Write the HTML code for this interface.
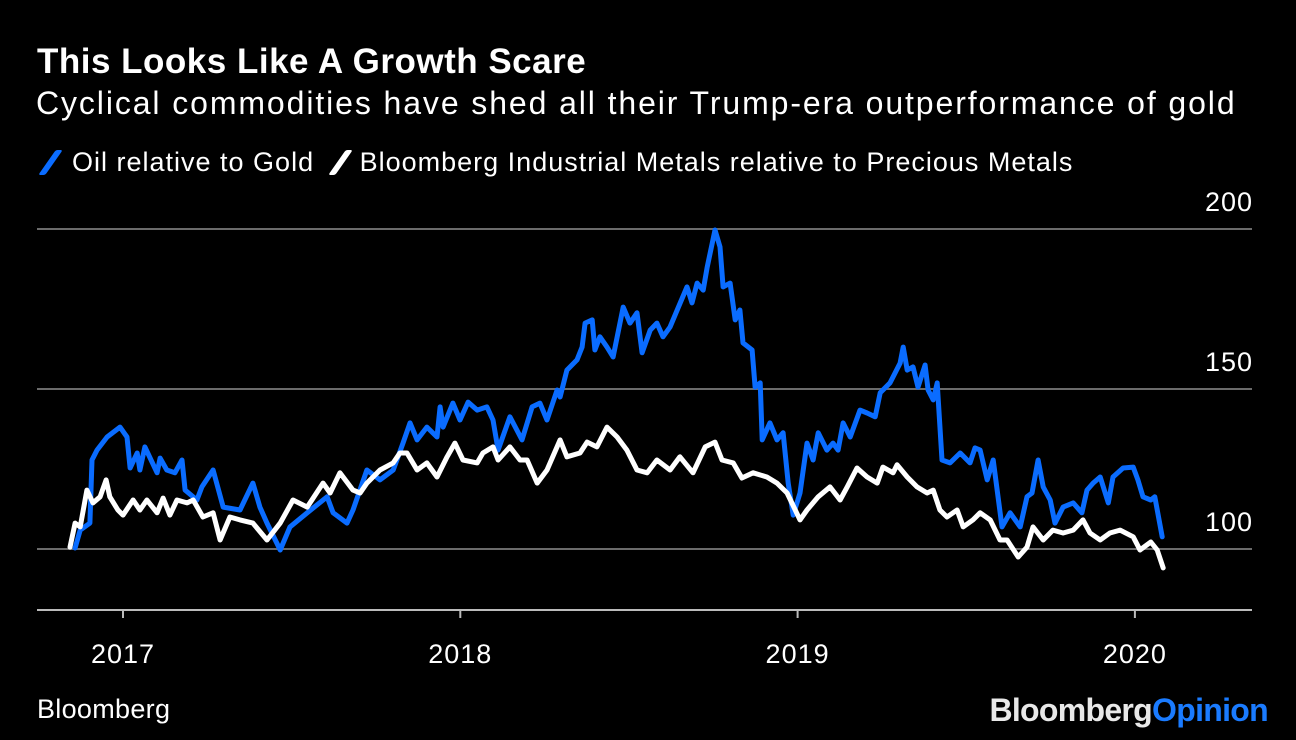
<!DOCTYPE html>
<html><head><meta charset="utf-8"><style>
body{margin:0;background:#000;width:1296px;height:740px;overflow:hidden;font-family:"Liberation Sans",sans-serif;color:#fff}
.t{position:absolute;white-space:nowrap}
</style></head><body>
<div class="t" style="left:37px;top:42px;font-size:35px;font-weight:bold;letter-spacing:0.5px">This Looks Like A Growth Scare</div>
<div class="t" style="left:36px;top:85px;font-size:32px;letter-spacing:1.9px">Cyclical commodities have shed all their Trump-era outperformance of gold</div>
<div class="t" style="left:37px;top:147px;font-size:27px;letter-spacing:1px">
<span><span style="display:inline-block;width:7px;height:25px;background:#0a6cff;transform:skew(-35deg);vertical-align:-4px;margin:0 18px 0 10px;border-radius:2px"></span>Oil relative to Gold</span>
<span><span style="display:inline-block;width:7px;height:25px;background:#fff;transform:skew(-35deg);vertical-align:-4px;margin:0 16px 0 14px;border-radius:2px"></span>Bloomberg Industrial Metals relative to Precious Metals</span>
</div>
<svg id="chart" width="1296" height="740" style="position:absolute;left:0;top:0"></svg>
<div class="t" style="left:37px;top:694px;font-size:27px;letter-spacing:0.3px">Bloomberg</div>
<div class="t" style="right:28px;top:692px;font-size:32px;font-weight:bold;letter-spacing:-0.7px;color:#e8e8e8">Bloomberg<span style="color:#1a7bff">Opinion</span></div>
<script>
const yTicks=[100,150,200];
const xTickYears=[2017,2018,2019,2020];
const oilDates=[2016.858,2016.873,2016.902,2016.908,2016.923,2016.953,2016.991,2017.012,2017.021,2017.042,2017.050,2017.065,2017.101,2017.110,2017.130,2017.154,2017.175,2017.184,2017.219,2017.234,2017.267,2017.297,2017.347,2017.385,2017.406,2017.427,2017.466,2017.495,2017.546,2017.605,2017.623,2017.664,2017.682,2017.723,2017.762,2017.801,2017.830,2017.851,2017.872,2017.901,2017.931,2017.940,2017.949,2017.978,2017.999,2018.023,2018.050,2018.079,2018.097,2018.112,2018.147,2018.183,2018.213,2018.236,2018.257,2018.287,2018.296,2018.316,2018.346,2018.361,2018.370,2018.391,2018.399,2018.414,2018.435,2018.453,2018.483,2018.503,2018.524,2018.539,2018.563,2018.583,2018.601,2018.622,2018.643,2018.672,2018.687,2018.702,2018.720,2018.732,2018.755,2018.770,2018.779,2018.800,2018.815,2018.829,2018.838,2018.865,2018.874,2018.889,2018.895,2018.918,2018.939,2018.957,2018.972,2018.987,2019.007,2019.028,2019.046,2019.061,2019.087,2019.105,2019.120,2019.135,2019.156,2019.185,2019.206,2019.230,2019.245,2019.274,2019.304,2019.313,2019.325,2019.342,2019.357,2019.378,2019.387,2019.402,2019.414,2019.428,2019.452,2019.482,2019.511,2019.526,2019.541,2019.562,2019.580,2019.606,2019.630,2019.660,2019.680,2019.695,2019.713,2019.728,2019.749,2019.763,2019.787,2019.817,2019.843,2019.858,2019.876,2019.897,2019.921,2019.935,2019.965,2019.995,2020.009,2020.024,2020.047,2020.059,2020.081];
const oilValues=[100.3,105.9,108.1,127.8,130.9,135.0,138.1,135.0,125.3,130.0,124.7,131.9,123.8,128.4,124.7,123.8,127.8,118.4,115.3,119.4,124.7,113.1,112.2,120.6,113.1,108.1,99.7,106.9,111.3,116.3,111.3,108.1,112.2,124.7,121.6,124.7,133.1,139.4,134.1,138.1,135.0,144.4,138.1,145.6,140.3,145.9,143.4,144.4,140.3,130.9,141.3,134.1,144.4,145.6,140.3,149.7,147.5,155.9,159.1,163.1,170.6,171.6,162.2,166.3,163.1,160.0,175.6,170.6,173.8,161.3,168.4,170.6,166.3,169.4,174.7,181.9,176.9,183.1,180.9,188.1,199.7,194.4,181.9,183.1,171.6,174.7,164.4,162.2,150.6,151.9,134.1,139.4,134.1,136.3,120.6,110.6,117.5,133.1,127.8,136.3,130.9,133.1,130.9,139.4,135.0,143.4,142.5,141.3,148.8,151.9,158.1,163.1,155.9,156.9,150.6,157.5,149.7,146.6,151.9,127.8,126.9,130.0,126.9,131.6,130.9,121.6,127.8,106.9,111.3,106.9,116.3,117.5,127.8,119.4,115.3,108.1,113.1,114.4,111.3,118.4,120.6,122.5,114.4,122.5,125.3,125.6,121.6,116.3,115.3,116.3,103.8];
const metalDates=[2016.843,2016.858,2016.873,2016.893,2016.911,2016.932,2016.950,2016.961,2016.985,2017.000,2017.030,2017.050,2017.071,2017.101,2017.119,2017.139,2017.160,2017.190,2017.208,2017.237,2017.267,2017.288,2017.317,2017.347,2017.385,2017.427,2017.466,2017.504,2017.546,2017.593,2017.614,2017.643,2017.682,2017.703,2017.723,2017.762,2017.801,2017.821,2017.842,2017.872,2017.901,2017.931,2017.961,2017.984,2018.008,2018.050,2018.067,2018.097,2018.112,2018.147,2018.177,2018.198,2018.228,2018.257,2018.296,2018.316,2018.355,2018.376,2018.405,2018.435,2018.465,2018.494,2018.524,2018.554,2018.583,2018.622,2018.651,2018.690,2018.726,2018.755,2018.776,2018.809,2018.835,2018.868,2018.909,2018.939,2018.969,2019.007,2019.028,2019.061,2019.096,2019.126,2019.147,2019.176,2019.206,2019.236,2019.253,2019.283,2019.295,2019.325,2019.354,2019.384,2019.402,2019.422,2019.443,2019.473,2019.491,2019.520,2019.541,2019.571,2019.600,2019.621,2019.654,2019.680,2019.698,2019.728,2019.757,2019.787,2019.817,2019.846,2019.867,2019.897,2019.926,2019.956,2019.995,2020.015,2020.047,2020.066,2020.084];
const metalValues=[100.6,108.1,106.9,118.4,114.4,116.3,121.6,116.3,112.2,110.6,115.3,112.2,115.3,111.3,115.9,110.6,115.3,114.4,115.3,110.0,111.3,102.8,110.0,109.1,108.1,102.8,108.1,115.3,113.1,120.6,117.5,123.8,118.4,117.5,120.6,124.7,126.9,130.0,130.0,124.7,126.9,122.5,128.8,133.1,127.8,126.9,130.0,131.9,127.8,131.9,127.8,127.8,120.6,124.7,134.1,128.8,130.0,133.4,131.9,138.1,135.0,130.9,124.7,123.8,127.8,124.7,128.8,123.8,131.9,133.4,127.8,126.9,122.2,123.8,122.5,120.6,117.5,109.1,112.2,116.3,119.4,115.3,119.4,125.3,122.5,120.6,125.6,123.8,126.3,122.5,119.4,117.5,118.4,112.2,110.0,112.2,106.9,109.1,111.3,109.1,102.8,102.8,97.5,100.6,106.9,102.8,105.9,105.0,105.9,109.1,105.0,102.8,105.0,105.9,103.8,99.7,102.2,99.7,94.1];

const NS='http://www.w3.org/2000/svg';
const svg=document.getElementById('chart');
const xS=t=>123+(t-2017)*337.3;
const yS=v=>549-(v-100)*3.2;
function mk(tag,attrs){const e=document.createElementNS(NS,tag);for(const k in attrs)e.setAttribute(k,attrs[k]);svg.appendChild(e);return e;}
yTicks.forEach(v=>{
  const g=mk('line',{x1:37,x2:1252,y1:yS(v),y2:yS(v),stroke:'#6b6b6b','stroke-width':2});
  
  
  const t=mk('text',{x:1253,y:yS(v)-18,'text-anchor':'end',fill:'#fff','font-size':27,'letter-spacing':1,'font-family':'Liberation Sans, sans-serif'});
  t.textContent=v;
  
  
});
const ax=mk('line',{x1:37,x2:1252,y1:610,y2:610,stroke:'#bbb','stroke-width':2});


xTickYears.forEach(yr=>{
  const tk=mk('line',{x1:xS(yr),x2:xS(yr),y1:610,y2:618,stroke:'#bbb','stroke-width':2});
  
  
  const t=mk('text',{x:xS(yr),y:663,'text-anchor':'middle',fill:'#fff','font-size':27,'letter-spacing':1,'font-family':'Liberation Sans, sans-serif'});
  t.textContent=yr;
  
  
});
function series(d,v,color,name){
  const pts=d.map((t,i)=>xS(t).toFixed(1)+','+yS(v[i]).toFixed(1)).join(' ');
  const p=mk('polyline',{points:pts,fill:'none',stroke:color,'stroke-width':5,'stroke-linejoin':'round','stroke-linecap':'round'});
  
  
}
series(oilDates,oilValues,'#0a6cff','oil-gold-line');
series(metalDates,metalValues,'#ffffff','metals-line');
</script>
</body></html>
